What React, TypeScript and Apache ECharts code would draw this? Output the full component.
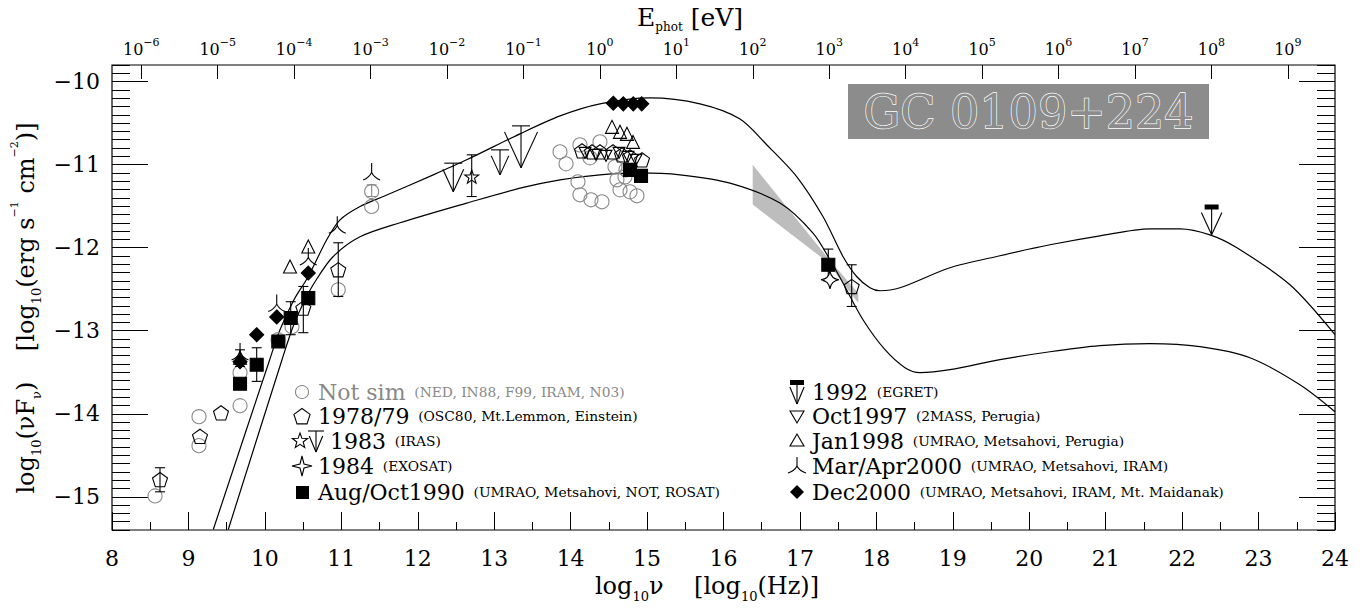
import React, { useEffect, useRef } from "react";
import * as echarts from "echarts";

const FONT = '"DejaVu Serif", "Liberation Serif", serif';
const LOG_HZ_PER_EV = 14.383;
const X_MIN = 8;
const X_MAX = 24;
const Y_MIN = -15.4;
const Y_MAX = -9.8;

const yMajorTicks = [-15, -14, -13, -12, -11, -10];
const eVExponents = [-6, -5, -4, -3, -2, -1, 0, 1, 2, 3, 4, 5, 6, 7, 8, 9];
const yMinorTicks = Array.from({ length: 57 }, (_, i) => Math.round((Y_MIN + i * 0.1) * 10) / 10);

// model curves (log nu, log nuFnu)
const upperCurve = [
  [9.325, -15.394], [10.063, -13.349], [10.198, -12.988], [10.381, -12.627], [10.568, -12.347],
  [10.809, -11.905], [10.983, -11.665], [11.245, -11.504], [11.549, -11.384], [12.203, -11.123],
  [12.64, -10.942], [13.338, -10.629], [13.861, -10.413], [14.384, -10.268], [15.038, -10.196],
  [15.692, -10.268], [16.216, -10.45], [16.565, -10.76], [16.957, -11.143], [17.301, -11.625],
  [17.563, -12.106], [17.742, -12.347], [17.916, -12.483], [18.047, -12.519], [18.309, -12.483],
  [18.963, -12.242], [19.617, -12.097], [20.271, -11.965], [20.925, -11.857], [21.579, -11.773],
  [21.972, -11.773], [22.364, -11.845], [22.717, -12.001], [23.411, -12.447], [24.0, -13.048],
];
const lowerCurve = [
  [9.521, -15.394], [10.224, -13.349], [10.368, -12.952], [10.512, -12.651], [10.656, -12.41],
  [10.891, -12.109], [11.244, -11.869], [11.768, -11.7], [12.64, -11.463], [13.338, -11.283],
  [13.861, -11.183], [14.384, -11.123], [14.907, -11.099], [15.431, -11.123], [16.085, -11.223],
  [16.739, -11.463], [17.171, -11.824], [17.393, -12.146], [17.563, -12.426], [17.825, -12.868],
  [18.113, -13.229], [18.374, -13.445], [18.57, -13.505], [18.963, -13.469], [19.617, -13.349],
  [20.271, -13.253], [20.925, -13.18], [21.579, -13.156], [22.233, -13.192], [22.887, -13.325],
  [23.541, -13.65], [24.0, -13.975],
];

// ROSAT bow-tie
const bowtieX = [16.382, 17.35, 17.763];
const bowtieHi = [-11.0, -12.106, -12.55];
const bowtieLo = [-11.48, -12.166, -12.667];

// observations
const notSim = [
  [8.563, -14.99], [9.138, -14.035], [9.138, -14.384], [9.675, -13.505], [9.675, -13.903],
  [10.172, -13.108], [10.355, -12.952], [10.96, -12.507], [11.397, -11.324], [11.397, -11.504],
  [13.861, -10.846], [13.94, -10.99], [14.096, -11.207], [14.122, -11.363], [14.266, -11.423],
  [14.41, -11.447], [14.122, -10.762], [14.384, -10.726], [14.253, -10.918], [14.58, -11.026],
  [14.606, -11.183], [14.646, -11.303], [14.777, -11.327], [14.868, -11.375], [14.724, -11.063],
  [14.711, -11.147],
];
const obs1978 = [
  [8.628, -14.794], [9.151, -14.272], [9.426, -13.99], [10.503, -12.727], [10.96, -12.266],
  [14.149, -10.834], [14.28, -10.846], [14.384, -10.846], [14.554, -10.846], [14.672, -10.882],
  [14.777, -10.906], [14.934, -10.942], [17.677, -12.467],
];
const obs1983 = [[12.706, -11.143]];
const limits1983 = [[12.465, -10.982, -11.327], [13.076, -10.822, -11.123], [13.351, -10.533, -11.038]];
const obs1984 = [[17.393, -12.387]];
const obs1990 = [
  [9.675, -13.638], [9.893, -13.409], [10.176, -13.129], [10.338, -12.847], [10.568, -12.607],
  [14.777, -11.063], [14.921, -11.135], [17.371, -12.206],
];
const limits1992 = [[22.386, -11.504, -11.845]];
const obs1997 = [
  [14.188, -10.858], [14.332, -10.882], [14.463, -10.894], [14.633, -10.858], [14.75, -10.906], [14.855, -10.942],
];
const obs1998 = [
  [9.675, -13.325], [10.329, -12.226], [10.568, -11.986], [14.541, -10.545], [14.646, -10.605],
  [14.737, -10.629], [14.816, -10.726],
];
const obs2000MarApr = [[9.675, -13.25], [10.155, -12.667], [10.568, -12.106], [10.947, -11.724], [11.397, -11.083]];
const obs2000Dec = [
  [9.675, -13.373], [9.893, -13.048], [10.155, -12.835], [10.568, -12.306], [14.558, -10.26],
  [14.689, -10.268], [14.82, -10.268], [14.93, -10.268],
];
const errBlack = [
  [8.628, -14.94, -14.65], [9.675, -13.43, -13.23], [9.893, -13.61, -13.205], [10.338, -13.048, -12.651],
  [10.503, -13.024, -12.467], [10.96, -12.587, -11.941], [12.706, -11.384, -10.882],
  [17.371, -12.4, -12.017], [17.677, -12.708, -12.206],
];
const errGray = [[11.397, -11.384, -11.243]];

const legendLeft = [
  ["Not sim", "(NED, IN88, F99, IRAM, N03)"],
  ["1978/79", "(OSC80, Mt.Lemmon, Einstein)"],
  ["1983", "(IRAS)"],
  ["1984", "(EXOSAT)"],
  ["Aug/Oct1990", "(UMRAO, Metsahovi, NOT, ROSAT)"],
];
const legendRight = [
  ["1992", "(EGRET)"],
  ["Oct1997", "(2MASS, Perugia)"],
  ["Jan1998", "(UMRAO, Metsahovi, Perugia)"],
  ["Mar/Apr2000", "(UMRAO, Metsahovi, IRAM)"],
  ["Dec2000", "(UMRAO, Metsahovi, IRAM, Mt. Maidanak)"],
];

const PENTAGON = "path://M0,-10L9.511,-3.09L5.878,8.09L-5.878,8.09L-9.511,-3.09Z";
const STAR5 =
  "path://M0,-10L2.351,-3.236L9.511,-3.09L3.804,1.236L5.878,8.09L0,4L-5.878,8.09L-3.804,1.236L-9.511,-3.09L-2.351,-3.236Z";
const STAR4 = "path://M0,-10Q1.2,-1.2 10,0Q1.2,1.2 0,10Q-1.2,1.2 -10,0Q-1.2,-1.2 0,-10Z";
const INV_TRI = "path://M-6,-5L6,-5L0,6Z";
const TRI3 = "path://M0,-9L0,0M0,0Q-2.5,5 -8,7M0,0Q2.5,5 8,7";

const minus = (v: number) => (v < 0 ? "\u2212" + Math.abs(v) : String(v));
const CLEAR = "rgba(255,255,255,0)";

function scatter(data: number[][], symbol: string, size: number, fill: string, stroke: string, z: number) {
  return {
    type: "scatter",
    data,
    symbol,
    symbolSize: size,
    symbolKeepAspect: true,
    itemStyle: { color: fill, borderColor: stroke, borderWidth: 1.1, opacity: 1 },
    z,
    silent: true,
  };
}

function errorSeries(data: number[][], color: string) {
  return {
    type: "custom",
    data,
    encode: { x: 0, y: [1, 2] },
    z: 4,
    silent: true,
    renderItem: (_p: any, api: any) => {
      const x = api.value(0);
      const a = api.coord([x, api.value(1)]);
      const b = api.coord([x, api.value(2)]);
      const st = { stroke: color, lineWidth: 1.1 };
      const w = 5;
      return {
        type: "group",
        children: [
          { type: "line", shape: { x1: a[0], y1: a[1], x2: b[0], y2: b[1] }, style: st },
          { type: "line", shape: { x1: a[0] - w, y1: a[1], x2: a[0] + w, y2: a[1] }, style: st },
          { type: "line", shape: { x1: b[0] - w, y1: b[1], x2: b[0] + w, y2: b[1] }, style: st },
        ],
      };
    },
  };
}

function limitSeries(data: number[][], thick: boolean) {
  return {
    type: "custom",
    data,
    encode: { x: 0, y: [1, 2] },
    z: 6,
    silent: true,
    renderItem: (_p: any, api: any) => {
      const x = api.value(0);
      const top = api.coord([x, api.value(1)]);
      const tip = api.coord([x, api.value(2)]);
      const len = tip[1] - top[1];
      const armH = Math.max(8, len - 6);
      const halfW = armH * 0.46;
      const st = { stroke: "#000", lineWidth: 1.1 };
      const bar = thick
        ? { type: "rect", shape: { x: top[0] - 7, y: top[1] - 2, width: 14, height: 5 }, style: { fill: "#000" } }
        : { type: "line", shape: { x1: top[0] - 9, y1: top[1], x2: top[0] + 9, y2: top[1] }, style: st };
      return {
        type: "group",
        children: [
          bar,
          { type: "line", shape: { x1: top[0], y1: top[1], x2: tip[0], y2: tip[1] }, style: st },
          { type: "line", shape: { x1: tip[0], y1: tip[1], x2: tip[0] - halfW, y2: tip[1] - armH }, style: st },
          { type: "line", shape: { x1: tip[0], y1: tip[1], x2: tip[0] + halfW, y2: tip[1] - armH }, style: st },
        ],
      };
    },
  };
}

function regPoly(cx: number, cy: number, r: number, n: number, rot: number) {
  const pts: number[][] = [];
  for (let i = 0; i < n; i++) {
    const a = rot + (i * 2 * Math.PI) / n;
    pts.push([cx + r * Math.cos(a), cy + r * Math.sin(a)]);
  }
  return pts;
}
function starPts(cx: number, cy: number, R: number, r: number, n: number) {
  const pts: number[][] = [];
  for (let i = 0; i < 2 * n; i++) {
    const a = -Math.PI / 2 + (i * Math.PI) / n;
    const rr = i % 2 === 0 ? R : r;
    pts.push([cx + rr * Math.cos(a), cy + rr * Math.sin(a)]);
  }
  return pts;
}

const BLK = { stroke: "#000", lineWidth: 1.1, fill: "none" };

function legendText(x: number, y: number, big: string, small: string, color: string) {
  return {
    type: "text",
    x,
    y,
    z: 20,
    style: {
      text: `{b|${big}}{s|  ${small}}`,
      rich: {
        b: { fontSize: 22, fontFamily: FONT, fill: color },
        s: { fontSize: 13.8, fontFamily: FONT, fill: color },
      },
      align: "left",
      verticalAlign: "middle",
    },
  };
}

function arrowIcon(cx: number, top: number, tip: number, thick: boolean) {
  const armH = tip - top - 5;
  const hw = armH * 0.42;
  const bar = thick
    ? { type: "rect", shape: { x: cx - 7, y: top - 2, width: 14, height: 5 }, style: { fill: "#000" } }
    : { type: "line", shape: { x1: cx - 8, y1: top, x2: cx + 8, y2: top }, style: BLK };
  return {
    type: "group",
    z: 20,
    children: [
      bar,
      { type: "line", shape: { x1: cx, y1: top, x2: cx, y2: tip }, style: BLK },
      { type: "line", shape: { x1: cx, y1: tip, x2: cx - hw, y2: tip - armH }, style: BLK },
      { type: "line", shape: { x1: cx, y1: tip, x2: cx + hw, y2: tip - armH }, style: BLK },
    ],
  };
}

function buildLegend() {
  const rows = [392, 416, 441, 466, 492];
  const lx = 302;
  const rx = 797;
  const els: any[] = [];
  els.push({ type: "circle", z: 20, shape: { cx: lx, cy: rows[0], r: 6.5 }, style: { fill: "none", stroke: "#888", lineWidth: 1.1 } });
  els.push({ type: "polygon", z: 20, shape: { points: regPoly(lx, rows[1] + 1, 8.5, 5, -Math.PI / 2) }, style: BLK });
  els.push({ type: "polygon", z: 20, shape: { points: starPts(lx - 2, rows[2], 8, 3.3, 5) }, style: BLK });
  els.push(arrowIcon(lx + 14, rows[2] - 10, rows[2] + 11, false));
  els.push({
    type: "polygon",
    z: 20,
    shape: { points: [[lx, rows[3] - 10], [lx + 2, rows[3] - 2], [lx + 10, rows[3]], [lx + 2, rows[3] + 2], [lx, rows[3] + 10], [lx - 2, rows[3] + 2], [lx - 10, rows[3]], [lx - 2, rows[3] - 2]] },
    style: BLK,
  });
  els.push({ type: "rect", z: 20, shape: { x: lx - 6, y: rows[4] - 6, width: 13, height: 13 }, style: { fill: "#000" } });
  legendLeft.forEach((r, i) => {
    els.push(legendText(i === 2 ? 330 : 318, rows[i], r[0], r[1], i === 0 ? "#888" : "#000"));
  });
  els.push(arrowIcon(rx, rows[0] - 10, rows[0] + 12, true));
  els.push({ type: "polygon", z: 20, shape: { points: [[rx - 7, rows[1] - 5], [rx + 7, rows[1] - 5], [rx, rows[1] + 7]] }, style: BLK });
  els.push({ type: "polygon", z: 20, shape: { points: [[rx - 7, rows[2] + 5], [rx + 7, rows[2] + 5], [rx, rows[2] - 7]] }, style: BLK });
  els.push({
    type: "group",
    z: 20,
    children: [
      { type: "line", shape: { x1: rx, y1: rows[3] - 9, x2: rx, y2: rows[3] }, style: BLK },
      { type: "bezierCurve", shape: { x1: rx, y1: rows[3], cpx1: rx - 2.5, cpy1: rows[3] + 5, x2: rx - 9, y2: rows[3] + 7 }, style: BLK },
      { type: "bezierCurve", shape: { x1: rx, y1: rows[3], cpx1: rx + 2.5, cpy1: rows[3] + 5, x2: rx + 9, y2: rows[3] + 7 }, style: BLK },
    ],
  });
  els.push({ type: "polygon", z: 20, shape: { points: [[rx, rows[4] - 7], [rx + 7, rows[4]], [rx, rows[4] + 7], [rx - 7, rows[4]]] }, style: { fill: "#000" } });
  legendRight.forEach((r, i) => {
    els.push(legendText(812, rows[i], r[0], r[1], "#000"));
  });
  return els;
}

function buildOption() {
  const tickColor = "#000";
  const sub = (size: number) => ({ fontSize: size, fontFamily: FONT, fill: "#000", verticalAlign: "bottom" });
  const sup = (size: number) => ({ fontSize: size, fontFamily: FONT, fill: "#000", verticalAlign: "top" });
  const graphic: any[] = [
    { type: "rect", z: 15, shape: { x: 848, y: 84, width: 361, height: 55 }, style: { fill: "#8c8c8c" } },
    {
      type: "text",
      z: 16,
      x: 1028.5,
      y: 112,
      style: {
        text: "GC 0109+224",
        fontSize: 46,
        fontFamily: FONT,
        fill: "#8c8c8c",
        stroke: "#ffffff",
        lineWidth: 1.3,
        align: "center",
        verticalAlign: "middle",
      },
    },
    {
      type: "text",
      x: 690,
      y: 17,
      style: {
        text: "{t|E}{s|phot}{t| [eV]}",
        rich: { t: { fontSize: 25, fontFamily: FONT, fill: "#000", lineHeight: 32 }, s: sub(12) },
        align: "center",
        verticalAlign: "middle",
      },
    },
    {
      type: "text",
      x: 707,
      y: 586,
      style: {
        text: "{t|log}{s|10}{t|\u03BD    [log}{s|10}{t|(Hz)]}",
        rich: { t: { fontSize: 24, fontFamily: FONT, fill: "#000", lineHeight: 34 }, s: sub(13) },
        align: "center",
        verticalAlign: "middle",
      },
    },
    {
      type: "text",
      x: 26,
      y: 308,
      rotation: Math.PI / 2,
      style: {
        text: "{t|log}{s|10}{t|(\u03BDF}{s|\u03BD}{t|)    [log}{s|10}{t|(erg s}{p|\u22121}{t| cm}{p|\u22122}{t|)]}",
        rich: { t: { fontSize: 24, fontFamily: FONT, fill: "#000", lineHeight: 34 }, s: sub(13), p: sup(11) },
        align: "center",
        verticalAlign: "middle",
      },
    },
    ...buildLegend(),
  ];

  const yAxisBase = (position: string, ticks: number[], len: number, labels: boolean) => ({
    type: "value",
    position,
    min: Y_MIN,
    max: Y_MAX,
    axisLine: { show: false, onZero: false },
    splitLine: { show: false },
    axisTick: { show: true, inside: true, length: len, customValues: ticks, lineStyle: { color: tickColor, width: 1 } },
    axisLabel: labels
      ? {
          show: true,
          customValues: yMajorTicks,
          formatter: (v: number) => minus(Math.round(v)),
          fontSize: 22,
          fontFamily: FONT,
          color: "#000",
          margin: 12,
        }
      : { show: false },
  });

  return {
    animation: false,
    backgroundColor: "#fff",
    grid: {
      left: 112,
      right: 29,
      top: 65,
      bottom: 84,
      show: true,
      borderColor: "#000",
      borderWidth: 1.2,
      backgroundColor: "transparent",
      containLabel: false,
      outerBoundsMode: "none",
    },
    xAxis: [
      {
        type: "value",
        position: "bottom",
        min: X_MIN,
        max: X_MAX,
        interval: 1,
        axisLine: { show: false, onZero: false },
        splitLine: { show: false },
        axisTick: { show: true, inside: true, length: 18, lineStyle: { color: tickColor, width: 1 } },
        minorTick: { show: true, splitNumber: 2, length: 8, lineStyle: { color: tickColor, width: 1 } },
        minorSplitLine: { show: false },
        axisLabel: { fontSize: 22, fontFamily: FONT, color: "#000", margin: 17 },
      },
      {
        type: "value",
        position: "top",
        min: X_MIN - LOG_HZ_PER_EV,
        max: X_MAX - LOG_HZ_PER_EV,
        axisLine: { show: false, onZero: false },
        splitLine: { show: false },
        axisTick: { show: true, inside: true, length: 14, customValues: eVExponents, lineStyle: { color: tickColor, width: 1 } },
        axisLabel: {
          show: true,
          customValues: eVExponents,
          margin: 4,
          formatter: (v: number) => `{b|10}{s|${minus(Math.round(v))}}`,
          rich: {
            b: { fontSize: 16, fontFamily: FONT, color: "#000", lineHeight: 24 },
            s: { fontSize: 11, fontFamily: FONT, color: "#000", verticalAlign: "top" },
          },
        },
      },
    ],
    yAxis: [
      yAxisBase("left", yMajorTicks, 36, true),
      yAxisBase("left", yMinorTicks, 18, false),
      yAxisBase("right", yMajorTicks, 36, false),
      yAxisBase("right", yMinorTicks, 18, false),
    ],
    graphic,
    series: [
      {
        type: "custom",
        data: bowtieX.map((x, i) => [x, bowtieHi[i], bowtieLo[i]]),
        encode: { x: 0, y: [1, 2] },
        z: 1,
        silent: true,
        renderItem: (params: any, api: any) => {
          if (params.dataIndex !== 0) return { type: "group", children: [] };
          const hi = bowtieX.map((x, i) => api.coord([x, bowtieHi[i]]));
          const lo = bowtieX.map((x, i) => api.coord([x, bowtieLo[i]])).reverse();
          return { type: "polygon", shape: { points: hi.concat(lo) }, style: { fill: "#bdbdbd" } };
        },
      },
      {
        type: "line",
        data: upperCurve,
        smooth: 0.3,
        symbol: "none",
        lineStyle: { color: "#000", width: 1.2 },
        z: 2,
        silent: true,
      },
      {
        type: "line",
        data: lowerCurve,
        smooth: 0.3,
        symbol: "none",
        lineStyle: { color: "#000", width: 1.2 },
        z: 2,
        silent: true,
      },
      errorSeries(errGray, "#888"),
      errorSeries(errBlack, "#000"),
      scatter(notSim, "circle", 14, CLEAR, "#888", 3),
      scatter(obs1978, PENTAGON, 15, CLEAR, "#000", 5),
      scatter(obs1997, INV_TRI, 12, CLEAR, "#000", 5),
      scatter(obs1998, "triangle", 13, CLEAR, "#000", 5),
      scatter(obs1983, STAR5, 14, CLEAR, "#000", 5),
      scatter(obs1984, STAR4, 18, "#fff", "#000", 5),
      scatter(obs2000MarApr, TRI3, 17, CLEAR, "#000", 5),
      scatter(obs1990, "rect", 13, "#000", "#000", 6),
      scatter(obs2000Dec, "diamond", 14, "#000", "#000", 6),
      limitSeries(limits1983, false),
      limitSeries(limits1992, true),
    ],
  };
}

export default function App() {
  const ref = useRef<HTMLDivElement>(null);
  useEffect(() => {
    if (!ref.current) return;
    const chart = echarts.init(ref.current, undefined, { renderer: "svg" });
    chart.setOption(buildOption() as any);
    return () => chart.dispose();
  }, []);
  return (
    <div
      ref={ref}
      style={{ position: "fixed", left: 0, top: 0, width: 1364, height: 614, background: "#fff" }}
    />
  );
}
